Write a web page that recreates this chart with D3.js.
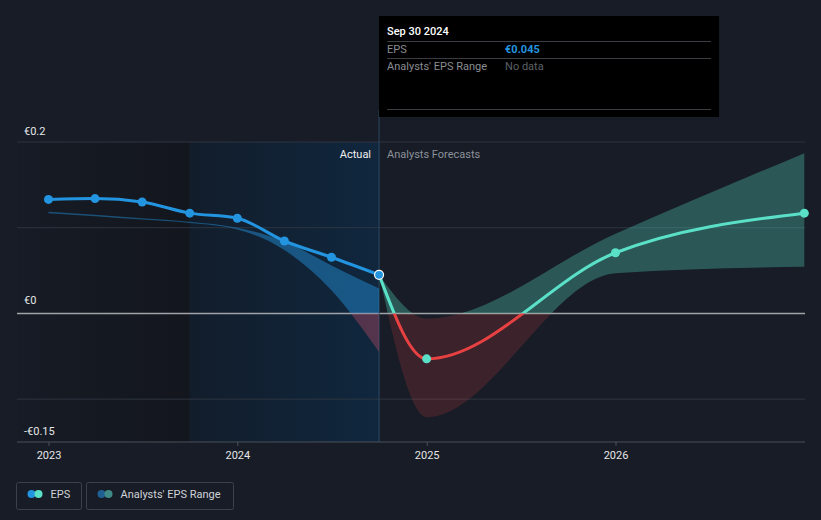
<!DOCTYPE html>
<html><head><meta charset="utf-8">
<script src="https://cdn.jsdelivr.net/npm/d3@7"></script>
<style>
html,body{margin:0;padding:0;background:#171c26;}
svg{display:block;font-family:Roboto,"Noto Sans",sans-serif;}
</style></head>
<body><svg id="c" width="821" height="520"></svg>
<script>
// ---- data ----
const actualDates = ["2022-12-31","2023-03-31","2023-06-30","2023-09-30","2023-12-31","2024-03-31","2024-06-30","2024-09-30"];
const actualEps = [0.133,0.134,0.130,0.117,0.111,0.0845,0.0655,0.045];
const pastRangeDates = ["2022-12-31","2023-03-31","2023-06-30","2023-09-30","2023-12-31","2024-03-31","2024-06-30","2024-09-30"];
const pastRangeLow  = [0.1170,0.1135,0.1095,0.1055,0.0980,0.074,0.027,-0.045];
const pastRangeHigh = [0.1185,0.1150,0.1110,0.1070,0.1000,0.084,0.056,0.029];
const fcDates = ["2024-09-30","2024-12-31","2025-12-31","2026-12-31"];
const fcEps = [0.045,-0.053,0.0708,0.117];
const fcLow = [0.045,-0.121,0.047,0.0545];
const fcHigh = [0.045,-0.006,0.093,0.187];
const yTicks = [0.2,0,-0.15];
const yTickLabels = ["€0.2","€0","-€0.15"];
const yGrid = [0.2,0.1,0,-0.1];
const xTicks = ["2023-01-01","2024-01-01","2025-01-01","2026-01-01"];
const xTickLabels = ["2023","2024","2025","2026"];

const P = s => new Date(s+"T00:00:00Z");
const svg = d3.select("#c");
const x = d3.scaleUtc().domain([P("2023-01-01"),P("2026-01-01")]).range([49,616]);
const y = d3.scaleLinear().domain([-0.15,0.2]).range([442,142]);
const L = 17, R = 805, T = 142, B = 442;

const defs = svg.append("defs");
const g1 = defs.append("linearGradient").attr("id","darkG").attr("x1",0).attr("x2",1).attr("y1",0).attr("y2",0);
g1.append("stop").attr("offset",0).attr("stop-color","#161b25");
g1.append("stop").attr("offset",1).attr("stop-color","#13161d");
const g2 = defs.append("linearGradient").attr("id","blueG").attr("x1",0).attr("x2",1).attr("y1",0).attr("y2",0);
g2.append("stop").attr("offset",0).attr("stop-color","#121d2b");
g2.append("stop").attr("offset",1).attr("stop-color","#10273e");
defs.append("clipPath").attr("id","above").append("rect").attr("x",0).attr("y",0).attr("width",821).attr("height",y(0));
defs.append("clipPath").attr("id","below").append("rect").attr("x",0).attr("y",y(0)).attr("width",821).attr("height",520-y(0));

// background regions
const lastActual = P(actualDates[actualDates.length-1]);
const yearBefore = P("2023-09-30");
svg.append("rect").attr("x",L).attr("y",T).attr("width",x(yearBefore)-L).attr("height",B-T).attr("fill","url(#darkG)");
svg.append("rect").attr("x",x(yearBefore)).attr("y",T).attr("width",x(lastActual)-x(yearBefore)).attr("height",B-T).attr("fill","url(#blueG)");

// grid
svg.selectAll(".grid").data(yGrid).enter().append("line")
  .attr("x1",L).attr("x2",R).attr("y1",d=>y(d)).attr("y2",d=>y(d))
  .attr("stroke",d=>d===0?"#a0a4a8":"#2e3540").attr("stroke-width",d=>d===0?1.5:1);

// vertical divider
svg.append("line").attr("x1",x(lastActual)).attr("x2",x(lastActual)).attr("y1",110).attr("y2",B)
  .attr("stroke","#2d4863").attr("stroke-width",1);

// bands
const curve = d3.curveMonotoneX;
const pastBand = pastRangeDates.map((d,i)=>({d:P(d),lo:pastRangeLow[i],hi:pastRangeHigh[i]}));
const fcBand = fcDates.map((d,i)=>({d:P(d),lo:fcLow[i],hi:fcHigh[i]}));
const area = d3.area().x(d=>x(d.d)).y0(d=>y(d.lo)).y1(d=>y(d.hi)).curve(curve);
svg.append("path").attr("d",area(pastBand)).attr("fill","#2394df").attr("fill-opacity",0.45).attr("clip-path","url(#above)");
svg.append("path").attr("d",area(pastBand)).attr("fill","#d0506a").attr("fill-opacity",0.35).attr("clip-path","url(#below)");
svg.append("path").attr("d",area(fcBand)).attr("fill","#5be0c8").attr("fill-opacity",0.3).attr("clip-path","url(#above)");
svg.append("path").attr("d",area(fcBand)).attr("fill","#e84142").attr("fill-opacity",0.18).attr("clip-path","url(#below)");

// lines
const line = d3.line().x(d=>x(d.d)).y(d=>y(d.v)).curve(curve);
const act = actualDates.map((d,i)=>({d:P(d),v:actualEps[i]}));
const fc = fcDates.map((d,i)=>({d:P(d),v:fcEps[i]}));
svg.append("path").attr("d",line(fc)).attr("fill","none").attr("stroke","#5be0c8").attr("stroke-width",3).attr("clip-path","url(#above)");
svg.append("path").attr("d",line(fc)).attr("fill","none").attr("stroke","#e84142").attr("stroke-width",3).attr("clip-path","url(#below)");
svg.append("path").attr("d",line(act)).attr("fill","none").attr("stroke","#2394df").attr("stroke-width",3);

// dots
svg.selectAll(".ad").data(act.slice(0,-1)).enter().append("circle")
  .attr("cx",d=>x(d.d)).attr("cy",d=>y(d.v)).attr("r",4.5).attr("fill","#2394df");
svg.selectAll(".fd").data(fc.slice(1)).enter().append("circle")
  .attr("cx",d=>x(d.d)).attr("cy",d=>y(d.v)).attr("r",4.5).attr("fill","#5be0c8");
const la = act[act.length-1];
svg.append("circle").attr("cx",x(la.d)).attr("cy",y(la.v)).attr("r",4.5).attr("fill","#2394df").attr("stroke","#ffffff").attr("stroke-width",1.2);

// x axis
svg.append("line").attr("x1",L).attr("x2",R).attr("y1",B).attr("y2",B).attr("stroke","#4a515a").attr("stroke-width",1);
const xt = svg.selectAll(".xt").data(xTicks).enter().append("g").attr("transform",d=>`translate(${x(P(d))},0)`);
xt.append("line").attr("y1",B).attr("y2",B+4).attr("stroke","#4a515a");
xt.append("text").attr("y",459).attr("text-anchor","middle").attr("fill","#e6e6e6").attr("font-size",11)
  .text((d,i)=>xTickLabels[i]);

// y labels
svg.selectAll(".yl").data(yTicks).enter().append("text")
  .attr("x",24).attr("y",d=>y(d) + (d===0?-9:-7))
  .attr("fill","#e6e6e6").attr("font-size",11).text((d,i)=>yTickLabels[i]);

// region labels
svg.append("text").attr("x",x(lastActual)-8).attr("y",158).attr("text-anchor","end").attr("fill","#f0f0f0").attr("font-size",11).text("Actual");
svg.append("text").attr("x",x(lastActual)+8).attr("y",158).attr("fill","#8c9199").attr("font-size",11).text("Analysts Forecasts");

// tooltip
const tx = x(lastActual);
svg.append("rect").attr("x",tx).attr("y",16).attr("width",340).attr("height",101).attr("fill","#000000");
svg.append("text").attr("x",tx+8).attr("y",35).attr("fill","#ffffff").attr("font-size",11).attr("font-weight",500).text("Sep 30 2024");
[41.5,58.5,109.5].forEach(v=>svg.append("line").attr("x1",tx+8).attr("x2",tx+332).attr("y1",v).attr("y2",v).attr("stroke","#3a3d42"));
svg.append("text").attr("x",tx+8).attr("y",53).attr("fill","#8a8d92").attr("font-size",11).text("EPS");
svg.append("text").attr("x",tx+126).attr("y",53).attr("fill","#2394df").attr("font-size",11).attr("font-weight",700).text("€" + la.v.toFixed(3));
svg.append("text").attr("x",tx+8).attr("y",70).attr("fill","#8a8d92").attr("font-size",11).text("Analysts' EPS Range");
svg.append("text").attr("x",tx+126).attr("y",70).attr("fill","#5c6066").attr("font-size",11).text("No data");

// legend
const leg = [{x:16.5,w:65,label:"EPS",c1:"#2394df",c2:"#5be0c8"},{x:86.5,w:147,label:"Analysts' EPS Range",c1:"#1f5f92",c2:"#3f8a86"}];
leg.forEach(l=>{
  svg.append("rect").attr("x",l.x).attr("y",482.5).attr("width",l.w).attr("height",27).attr("rx",2).attr("fill","none").attr("stroke","#3a414b");
  svg.append("circle").attr("cx",l.x+15).attr("cy",494).attr("r",4).attr("fill",l.c1);
  svg.append("circle").attr("cx",l.x+22).attr("cy",494).attr("r",4).attr("fill",l.c2);
  svg.append("text").attr("x",l.x+34).attr("y",498).attr("fill","#d0d3d8").attr("font-size",11).text(l.label);
});
</script></body></html>
